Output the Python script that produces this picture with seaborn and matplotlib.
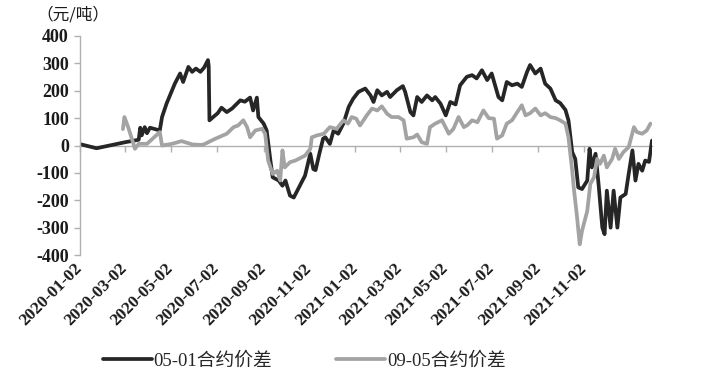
import pandas as pd
import numpy as np
import matplotlib
matplotlib.use('Agg')
import matplotlib.pyplot as plt
import matplotlib.dates as mdates
import seaborn as sns

# 05-01合约价差 (元/吨)
dates_0501 = ['2020-01-02', '2020-01-24', '2020-03-02', '2020-03-20', '2020-03-22', '2020-03-24',
              '2020-03-28', '2020-03-31', '2020-04-04', '2020-04-17', '2020-04-20', '2020-04-26',
              '2020-05-07', '2020-05-14', '2020-05-18', '2020-05-25', '2020-05-30', '2020-06-04',
              '2020-06-10', '2020-06-15', '2020-06-20', '2020-06-21', '2020-06-22', '2020-06-27',
              '2020-07-03', '2020-07-08', '2020-07-15', '2020-07-22', '2020-08-02', '2020-08-08',
              '2020-08-15', '2020-08-19', '2020-08-24', '2020-08-26', '2020-09-02', '2020-09-06',
              '2020-09-11', '2020-09-14', '2020-09-22', '2020-09-27', '2020-10-01', '2020-10-07',
              '2020-10-12', '2020-10-27', '2020-11-03', '2020-11-07', '2020-11-10', '2020-11-15',
              '2020-11-20', '2020-11-23', '2020-11-29', '2020-12-04', '2020-12-10', '2020-12-17',
              '2020-12-24', '2020-12-30', '2021-01-06', '2021-01-15', '2021-01-22', '2021-01-26',
              '2021-01-31', '2021-02-06', '2021-02-13', '2021-02-17', '2021-02-26', '2021-03-06',
              '2021-03-09', '2021-03-16', '2021-03-20', '2021-03-25', '2021-03-31', '2021-04-07',
              '2021-04-14', '2021-04-18', '2021-04-25', '2021-05-02', '2021-05-08', '2021-05-15',
              '2021-05-21', '2021-05-30', '2021-06-06', '2021-06-12', '2021-06-19', '2021-06-26',
              '2021-07-02', '2021-07-11', '2021-07-16', '2021-07-22', '2021-07-29', '2021-08-05',
              '2021-08-11', '2021-08-18', '2021-08-22', '2021-08-29', '2021-09-05', '2021-09-11',
              '2021-09-18', '2021-09-25', '2021-10-01', '2021-10-08', '2021-10-12', '2021-10-17',
              '2021-10-21', '2021-10-25', '2021-10-30', '2021-11-06', '2021-11-09', '2021-11-12',
              '2021-11-17', '2021-11-21', '2021-11-26', '2021-11-29', '2021-12-02', '2021-12-07',
              '2021-12-11', '2021-12-16', '2021-12-20', '2021-12-27', '2021-12-31', '2022-01-05',
              '2022-01-09', '2022-01-13', '2022-01-18', '2022-01-22', '2022-01-27', '2022-01-31']
spread_0501 = [5, -10, 12, 21, 65, 37,
               67, 45, 65, 55, 104, 153,
               226, 263, 232, 287, 269, 281,
               269, 285, 312, 290, 92, 104,
               118, 138, 122, 135, 165, 160,
               175, 128, 175, 104, 80, 55,
               -55, -116, -128, -147, -128, -183,
               -190, -110, -30, -86, -90, -30,
               25, 30, 6, 55, 43, 80,
               141, 171, 196, 208, 183, 159,
               202, 183, 196, 177, 202, 217,
               196, 122, 110, 177, 159, 183,
               165, 177, 153, 110, 159, 150,
               220, 251, 257, 245, 275, 239,
               263, 177, 165, 232, 220, 226,
               214, 269, 294, 263, 281, 226,
               208, 165, 155, 130, 92, -24,
               -49, -153, -159, -128, -12, -80,
               -30, -141, -300, -324, -165, -300,
               -165, -300, -190, -177, -104, -18,
               -128, -67, -92, -55, -60, 18]

# 09-05合约价差 (元/吨)
dates_0905 = ['2020-02-28', '2020-03-01', '2020-03-06', '2020-03-13', '2020-03-15', '2020-03-20',
              '2020-03-31', '2020-04-17', '2020-04-20', '2020-05-03', '2020-05-16', '2020-05-30',
              '2020-06-12', '2020-06-16', '2020-06-30', '2020-07-15', '2020-07-24', '2020-07-30',
              '2020-08-06', '2020-08-11', '2020-08-15', '2020-08-22', '2020-08-31', '2020-09-04',
              '2020-09-08', '2020-09-14', '2020-09-20', '2020-09-24', '2020-09-27', '2020-09-30',
              '2020-10-07', '2020-10-14', '2020-10-27', '2020-11-03', '2020-11-05', '2020-11-12',
              '2020-11-21', '2020-11-29', '2020-12-08', '2020-12-17', '2020-12-23', '2020-12-28',
              '2021-01-03', '2021-01-08', '2021-01-17', '2021-01-24', '2021-01-31', '2021-02-06',
              '2021-02-13', '2021-02-19', '2021-02-28', '2021-03-07', '2021-03-11', '2021-03-20',
              '2021-03-25', '2021-03-31', '2021-04-07', '2021-04-11', '2021-04-18', '2021-04-27',
              '2021-05-06', '2021-05-12', '2021-05-19', '2021-05-26', '2021-05-31', '2021-06-06',
              '2021-06-13', '2021-06-21', '2021-06-28', '2021-07-05', '2021-07-09', '2021-07-16',
              '2021-07-22', '2021-07-29', '2021-08-05', '2021-08-11', '2021-08-16', '2021-08-22',
              '2021-08-29', '2021-09-05', '2021-09-11', '2021-09-18', '2021-09-25', '2021-10-01',
              '2021-10-08', '2021-10-12', '2021-10-17', '2021-10-19', '2021-10-23', '2021-10-27',
              '2021-10-30', '2021-11-06', '2021-11-10', '2021-11-15', '2021-11-19', '2021-11-23',
              '2021-11-28', '2021-12-02', '2021-12-09', '2021-12-13', '2021-12-18', '2021-12-24',
              '2021-12-31', '2022-01-07', '2022-01-11', '2022-01-18', '2022-01-24', '2022-01-29']
spread_0905 = [60, 104, 67, 6, -12, 6,
               6, 49, 0, 6, 16, 4,
               2, 6, 25, 43, 67, 73,
               92, 67, 30, 55, 61, 43,
               -55, -104, -92, -128, -18, -80,
               -61, -55, -37, -12, 30, 37,
               43, 67, 61, 92, 80, 104,
               98, 73, 110, 135, 128, 143,
               116, 104, 104, 92, 25, 30,
               40, 12, 6, 67, 80, 92,
               43, 60, 104, 67, 75, 92,
               85, 128, 100, 98, 25, 37,
               80, 92, 122, 147, 110, 118,
               135, 110, 118, 104, 100, 92,
               80, 30, -92, -153, -251, -361,
               -312, -239, -141, -116, -49, -67,
               -37, -80, -49, -12, -49, -24,
               -6, 67, 49, 43, 55, 80]

series_names = ['05-01合约价差', '09-05合约价差']
series_colors = ['#262626', '#a3a3a3']
tick_dates = ['2020-01-02', '2020-03-02', '2020-05-02', '2020-07-02', '2020-09-02', '2020-11-02',
              '2021-01-02', '2021-03-02', '2021-05-02', '2021-07-02', '2021-09-02', '2021-11-02']
y_ticks = [-400, -300, -200, -100, 0, 100, 200, 300, 400]
unit_label = '（元/吨）'

df = pd.concat([
    pd.DataFrame({'日期': pd.to_datetime(dates_0501), '价差': spread_0501, '合约': series_names[0]}),
    pd.DataFrame({'日期': pd.to_datetime(dates_0905), '价差': spread_0905, '合约': series_names[1]}),
], ignore_index=True)

sns.set_theme(style='white')
plt.rcParams['font.family'] = ['Liberation Serif', 'Noto Sans CJK SC']
plt.rcParams['axes.unicode_minus'] = False

fig = plt.figure(figsize=(7.09, 3.78), dpi=100)
ax = fig.add_axes([80 / 709, 1 - 255 / 378, 572 / 709, 219 / 378])

sns.lineplot(data=df, x='日期', y='价差', hue='合约', hue_order=series_names,
             palette=series_colors, linewidth=2.7, sort=False, ax=ax)

ax.set_ylim(-400, 400)
ax.set_xlim(pd.Timestamp('2020-01-02'), pd.Timestamp('2022-01-31'))
ax.set_yticks(y_ticks)
ax.set_xticks(pd.to_datetime(tick_dates))
ax.xaxis.set_major_formatter(mdates.DateFormatter('%Y-%m-%d'))
ax.set_xlabel('')
ax.set_ylabel('')

for s in ['top', 'right', 'bottom']:
    ax.spines[s].set_visible(False)
ax.spines['left'].set_color('#b0b0b0')
ax.spines['left'].set_linewidth(1.0)
ax.tick_params(axis='y', left=True, length=4, width=1, color='#b0b0b0', pad=4,
               labelsize=13, labelcolor='#1a1a1a')
for lab in ax.get_yticklabels():
    lab.set_fontweight('bold')
ax.tick_params(axis='x', bottom=True, length=0, pad=8, labelsize=12.5, labelcolor='#1a1a1a')
plt.setp(ax.get_xticklabels(), rotation=45, ha='right', va='center', rotation_mode='anchor',
         fontweight='bold')

# 零轴及刻度线
zero_axis = ax.secondary_xaxis(0, transform=ax.transData)
zero_axis.set_xticks(pd.to_datetime(tick_dates))
zero_axis.tick_params(axis='x', length=4, width=1, color='#b0b0b0', labelbottom=False)
zero_axis.spines['bottom'].set_color('#b0b0b0')
zero_axis.spines['bottom'].set_linewidth(1.0)

fig.text(36 / 709, 1 - 15 / 378, unit_label, ha='left', va='center', fontsize=12,
         color='#1a1a1a', family=['Noto Sans CJK SC'])

handles, labels = ax.get_legend_handles_labels()
ax.get_legend().remove()
fig.legend(handles, labels, loc='center left', bbox_to_anchor=(103 / 709, 1 - 361 / 378),
           ncol=2, frameon=False, fontsize=13.5, handlelength=2.6, handletextpad=0.1,
           columnspacing=3.4, borderpad=0, borderaxespad=0)

fig.savefig('out.png', dpi=100)
